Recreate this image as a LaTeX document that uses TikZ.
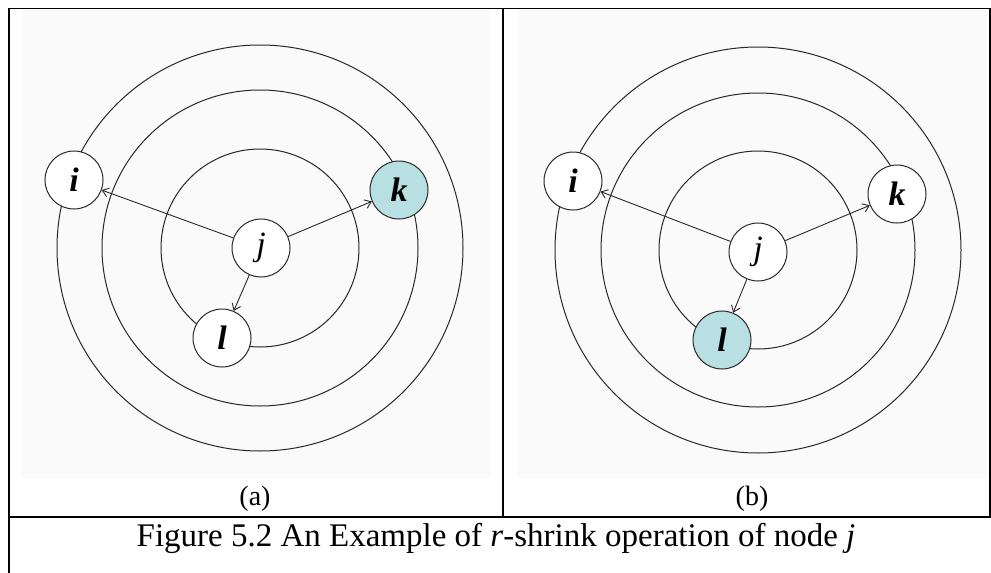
\documentclass[tikz,border=0pt]{standalone}
\usepackage{fontspec}
\setmainfont{Liberation Serif}
\usetikzlibrary{arrows.meta}
\definecolor{cyanfill}{RGB}{184,223,226}
\definecolor{panelbg}{RGB}{250,250,250}
\definecolor{ringcol}{RGB}{40,40,40}
\begin{document}
\begin{tikzpicture}[x=1pt,y=-1pt,
  ring/.style={draw=ringcol, line width=1pt},
  vtx/.style={circle, draw=ringcol, line width=1pt, fill=white, minimum size=58pt, inner sep=0pt, font=\fontsize{34}{34}\selectfont},
  hot/.style={fill=cyanfill},
  edge/.style={draw=ringcol, line width=0.9pt, -{Straight Barb[length=6pt,width=9pt]}},
  frame/.style={line width=2pt, black},
  toprule/.style={line width=1.2pt, black},
  lbl/.style={font=\fontsize{28}{28}\selectfont},
  captxt/.style={font=\fontsize{33}{33}\selectfont}]
\useasboundingbox (0,0) rectangle (991,573);
\fill[panelbg] (22,9) rectangle (490,478);
\fill[panelbg] (518,9) rectangle (986,478);
% table frame
\draw[toprule] (8,8.5) -- (990.5,8.5);
\draw[frame] (8.7,8) -- (8.7,573);
\draw[frame] (503,8) -- (503,517);
\draw[frame] (989.8,8) -- (989.8,517);
\draw[frame] (8,517) -- (991,517);
% panel (a)
\begin{scope}[shift={(260,248)}]
  \draw[ring] (0,0) circle[radius=203pt];
  \draw[ring] (0,0) circle[radius=158pt];
  \draw[ring] (0,0) circle[radius=99pt];
  \node[vtx] (ai) at (-186,-68) {\textbf{\textit{i}}};
  \node[vtx,hot] (ak) at (139,-58) {\textbf{\textit{k}}};
  \node[vtx] (aj) at (1,0) {\textit{j}};
  \node[vtx] (al) at (-38,90) {\textbf{\textit{l}}};
  \draw[edge] (aj) -- (ai);
  \draw[edge] (aj) -- (ak);
  \draw[edge] (aj) -- (al);
\end{scope}
% panel (b)
\begin{scope}[shift={(758,250)}]
  \draw[ring] (0,0) circle[radius=203pt];
  \draw[ring] (0,0) circle[radius=157pt];
  \draw[ring] (0,0) circle[radius=99pt];
  \node[vtx] (bi) at (-185,-69) {\textbf{\textit{i}}};
  \node[vtx] (bk) at (139,-56) {\textbf{\textit{k}}};
  \node[vtx] (bj) at (0,2) {\textit{j}};
  \node[vtx,hot] (bl) at (-36,90) {\textbf{\textit{l}}};
  \draw[edge] (bj) -- (bi);
  \draw[edge] (bj) -- (bk);
  \draw[edge] (bj) -- (bl);
\end{scope}
\node[lbl] (la) at (255,499) {(a)};
\node[lbl] (lb) at (752,499) {(b)};
\node[captxt] (cap) at (496,538) {Figure 5.2 An Example of \textit{r}-shrink operation of node \textit{j}};
\end{tikzpicture}
\end{document}
